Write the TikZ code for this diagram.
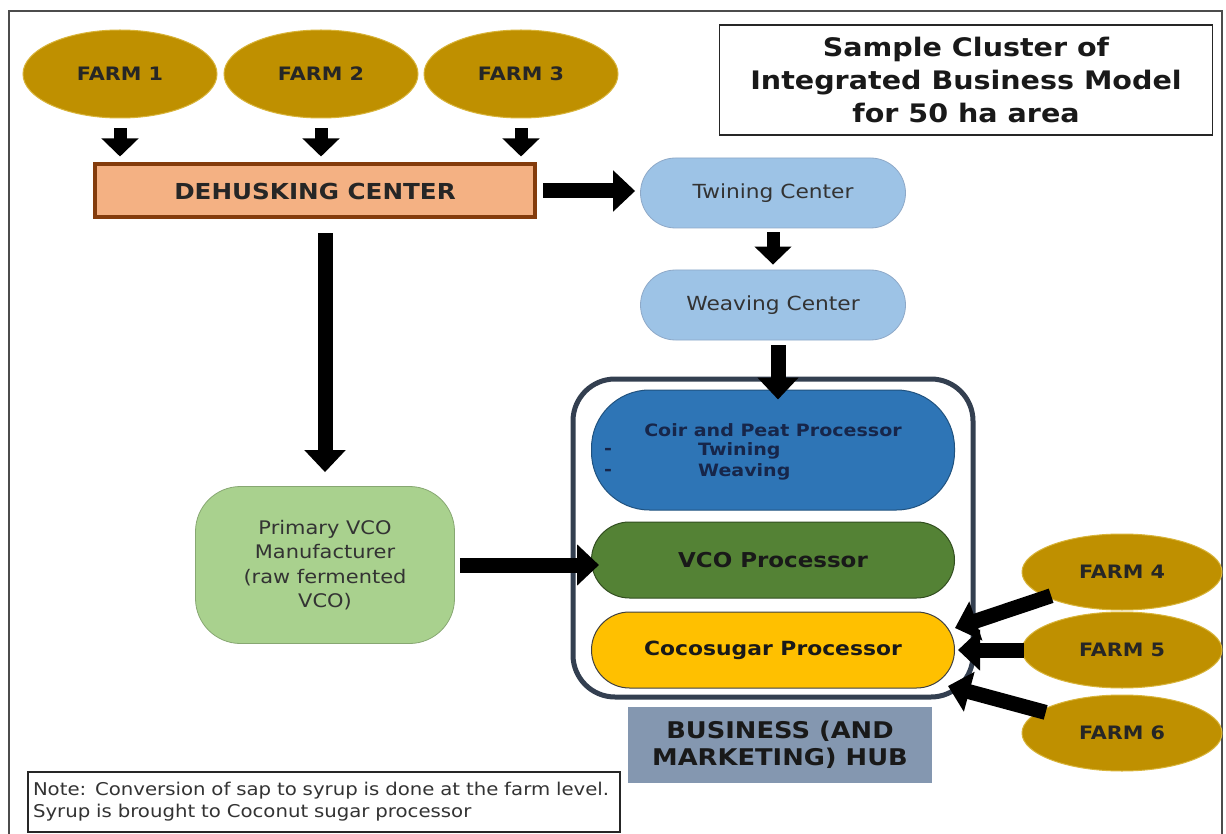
\documentclass[tikz,border=0pt]{standalone}
\usepackage{fontspec}
\setmainfont{DejaVu Sans}[FakeStretch=1.12]
\usetikzlibrary{arrows.meta,shapes.geometric}
\definecolor{farmgold}{HTML}{BF9000}
\definecolor{farmedge}{HTML}{D8B43A}
\definecolor{salmon}{HTML}{F4B183}
\definecolor{brownedge}{HTML}{843C0C}
\definecolor{paleblue}{HTML}{9DC3E6}
\definecolor{paleedge}{HTML}{8EA9C8}
\definecolor{coirblue}{HTML}{2E75B6}
\definecolor{coirtext}{HTML}{17264A}
\definecolor{vcogreen}{HTML}{548235}
\definecolor{lightgreen}{HTML}{A9D18E}
\definecolor{cocoyellow}{HTML}{FFC000}
\definecolor{hubedge}{HTML}{333F50}
\definecolor{hubfill}{HTML}{8497B0}
\begin{document}
\begin{tikzpicture}[x=1pt,y=-1pt,
  farm/.style={ellipse, fill=farmgold, draw=farmedge, line width=1pt,
    minimum width=194pt, minimum height=88pt, inner sep=0pt,
    font=\fontsize{18.5}{22}\selectfont\bfseries, text=black!85},
  farmb/.style={farm, minimum width=200pt, minimum height=76pt},
  ctrbox/.style={rectangle, rounded corners=35pt, fill=paleblue, draw=paleedge,
    line width=0.8pt, minimum width=265pt, minimum height=70pt,
    font=\fontsize{19.4}{23}\selectfont, text=black!80},
  proc/.style={rectangle, minimum width=363pt, line width=1pt,
    font=\fontsize{19.5}{23}\selectfont\bfseries},
  coirfont/.style={font=\fontsize{17}{20}\selectfont\bfseries, text=coirtext, inner sep=0pt},
  blk/.style={line width=15pt, draw=black,
    -{Triangle[width=40pt,length=22pt]}},
  blkthin/.style={line width=13pt, draw=black,
    -{Triangle[width=36pt,length=18pt]}}
]
\useasboundingbox (0,0) rectangle (1226,834);
\fill[white] (0,0) rectangle (1226,834);

% outer frame
\draw[black!70, line width=1.2pt] (9,838) -- (9,11) -- (1222,11) -- (1222,838);

% title
\node[draw=black!85, line width=1.6pt, minimum width=493pt, minimum height=110pt,
  align=center, font=\fontsize{25.5}{33}\selectfont\bfseries, text=black!90]
  (title) at (966,80) {Sample Cluster of\\Integrated Business Model\\for 50 ha area};

% farms feeding the dehusking center
\node[farm] (f1) at (120,74) {FARM 1};
\node[farm] (f2) at (321,74) {FARM 2};
\node[farm] (f3) at (521,74) {FARM 3};

\node[rectangle, fill=salmon, draw=brownedge, line width=4pt,
  minimum width=440pt, minimum height=53pt,
  font=\fontsize{22}{26}\selectfont\bfseries, text=black!85]
  (dh) at (315,191) {DEHUSKING CENTER};

\foreach \f in {f1,f2,f3}
  \draw[blkthin, shorten <=10pt, shorten >=6pt] (\f.south) -- (\f.south |- dh.north);

% coir line
\node[ctrbox] (twin) at (773,193) {Twining Center};
\node[ctrbox] (weave) at (773,305) {Weaving Center};

% business hub container
\draw[hubedge, line width=5pt, rounded corners=42pt] (573,379) rectangle (973,697);
\coordinate (hubtop) at (778,379);

\node[proc, rounded corners=58pt, fill=coirblue, draw=coirblue!70!black,
  minimum height=120pt] (coir) at (773,450) {};
\node[coirfont] (coirt) at (773,430) {Coir and Peat Processor};
\node[coirfont, anchor=west] (tw) at (698,451) {Twining};
\node[coirfont, anchor=west] (wv) at (698,472) {Weaving};
\node[coirfont] (d1) at (608,451) {-};
\node[coirfont] (d2) at (608,472) {-};

\node[proc, rounded corners=38pt, fill=vcogreen, draw=vcogreen!60!black,
  minimum height=76pt, text=black!90, font=\fontsize{20.5}{24}\selectfont\bfseries]
  (vco) at (773,560) {VCO Processor};
\node[proc, rounded corners=38pt, fill=cocoyellow, draw=black!75,
  minimum height=76pt, text=black!90] (coco) at (773,650) {Cocosugar Processor};

\node[rectangle, fill=hubfill, minimum width=304pt, minimum height=76pt,
  align=center, font=\fontsize{23}{27}\selectfont\bfseries, text=black!90]
  (hub) at (780,745) {BUSINESS (AND\\MARKETING) HUB};

% primary VCO
\node[rectangle, rounded corners=45pt, fill=lightgreen, draw=lightgreen!80!black,
  line width=0.8pt, minimum width=259pt, minimum height=157pt, align=center,
  font=\fontsize{18.7}{24.5}\selectfont, text=black!80]
  (pvco) at (325,565) {Primary VCO\\Manufacturer\\(raw fermented\\VCO)};

% farms feeding the cocosugar processor
\node[farmb] (f4) at (1122,572) {FARM 4};
\node[farmb] (f5) at (1122,650) {FARM 5};
\node[farmb] (f6) at (1122,733) {FARM 6};
\coordinate (t4) at (955,628);
\coordinate (t5) at (958,650);
\coordinate (t6) at (948,686);

% flows
\draw[blk, shorten <=6pt, shorten >=5pt] (dh.east) -- (dh.east -| twin.west);
\draw[blkthin, shorten <=4pt, shorten >=5pt] (twin.south) -- (weave.north);
\draw[blk, shorten <=5pt, shorten >=-10pt] (weave.south -| hubtop) -- (coir.north -| hubtop);
\draw[blk, shorten <=14pt, shorten >=14pt] (dh.south -| pvco.north) -- (pvco.north);
\draw[blk, shorten <=5pt, shorten >=-8pt] (pvco.east) -- (pvco.east -| vco.west);
\draw[blk, shorten <=-5pt] (f4) -- (t4);
\draw[blk, shorten <=-2pt] (f5) -- (t5);
\draw[blk, shorten <=-6pt] (f6) -- (t6);

% note
\node[draw=black!85, line width=1.2pt, minimum width=592pt, minimum height=60pt,
  align=left, text width=582pt, font=\fontsize{17.6}{22}\selectfont, text=black!80]
  (note) at (324,802) {Note: Conversion of sap to syrup is done at the farm level.\\Syrup is brought to Coconut sugar processor};
\end{tikzpicture}
\end{document}
